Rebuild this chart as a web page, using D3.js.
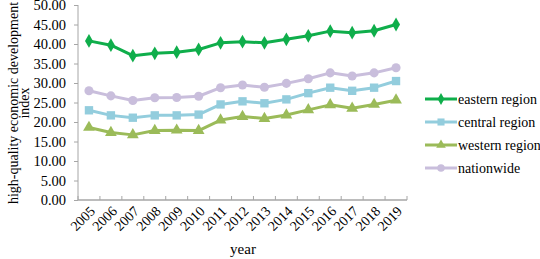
<!DOCTYPE html>
<html><head><meta charset="utf-8">
<script src="https://cdn.jsdelivr.net/npm/d3@7"></script>
<style>body{margin:0;background:#fff}svg{display:block}
svg text{font-family:"Liberation Serif","Times New Roman",Times,serif !important;fill:#000}</style>
</head><body><svg id="c" width="540" height="259"></svg>
<script>
const years = ["2005","2006","2007","2008","2009","2010","2011","2012","2013","2014","2015","2016","2017","2018","2019"];
const eastern = [40.8,39.7,37.0,37.6,37.9,38.6,40.3,40.6,40.3,41.2,42.1,43.3,42.9,43.4,45.0];
const central = [23.0,21.7,21.1,21.7,21.7,21.9,24.5,25.3,24.8,25.8,27.4,28.8,28.0,28.8,30.5];
const western = [18.6,17.3,16.7,17.8,17.9,17.8,20.5,21.4,20.9,21.8,23.1,24.4,23.5,24.5,25.6];
const nationwide = [28.0,26.7,25.5,26.2,26.3,26.6,28.8,29.5,28.9,29.9,31.1,32.6,31.8,32.6,33.9];
const yTicks = [0,5,10,15,20,25,30,35,40,45,50];
const seriesNames = ["eastern region","central region","western region","nationwide"];

const series = [
  {name:seriesNames[0], values:eastern, color:"#0fae4b", sym:d3.symbolDiamond, size:55, lsize:40},
  {name:seriesNames[1], values:central, color:"#93cddd", sym:d3.symbolSquare, size:70, lsize:50},
  {name:seriesNames[2], values:western, color:"#9bbb59", sym:d3.symbolTriangle, size:60, lsize:40},
  {name:seriesNames[3], values:nationwide, color:"#c9bedc", sym:d3.symbolCircle, size:65, lsize:45}
];

const svg = d3.select("#c");
const x = d3.scaleBand().domain(years).range([78,407]);
const y = d3.scaleLinear().domain([0,50]).range([200,5]);
const axisColor = "#a6a6a6";

// y axis
const ya = svg.append("g").attr("transform","translate(78,0)")
  .call(d3.axisLeft(y).tickValues(yTicks).tickSize(4).tickFormat(d3.format(".2f")));
ya.selectAll("line,path").attr("stroke",axisColor).attr("stroke-width",1);
ya.selectAll("text").attr("font-size",14.5).attr("x",-12);
ya.select(".domain").attr("d","M0,5V200");

// x axis
const xa = svg.append("g").attr("transform","translate(0,200)")
  .call(d3.axisBottom(x).tickSize(0).tickFormat(d=>d));
xa.selectAll("path").attr("stroke",axisColor).attr("stroke-width",1.3).attr("d","M78,0H407");
xa.selectAll(".tick text").attr("font-size",14)
  .attr("text-anchor","end").attr("dy",0).attr("y",0)
  .attr("transform","translate(7,12) rotate(-45)");
const bounds = years.map(d=>x(d)).concat([x.range()[1]]);
svg.append("g").selectAll("line").data(bounds).join("line")
  .attr("x1",d=>d).attr("x2",d=>d).attr("y1",200).attr("y2",196)
  .attr("stroke",axisColor).attr("stroke-width",1);

// lines
const line = d3.line().x((d,i)=>x(years[i])+x.bandwidth()/2).y(d=>y(d));
series.forEach(s=>{
  svg.append("path").datum(s.values).attr("d",line).attr("fill","none")
    .attr("stroke",s.color).attr("stroke-width",3).attr("stroke-linejoin","round");
  svg.append("g").selectAll("path").data(s.values).join("path")
    .attr("d",d3.symbol().type(s.sym).size(s.size))
    .attr("transform",(d,i)=>`translate(${x(years[i])+x.bandwidth()/2},${y(d)})`)
    .attr("fill",s.color);
});

// axis titles
svg.append("text").attr("x",243).attr("y",254).attr("text-anchor","middle")
  .attr("font-size",15).text("year");
const yt = svg.append("text").attr("transform","translate(0,103) rotate(-90)")
  .attr("text-anchor","middle").attr("font-size",14);
yt.append("tspan").attr("x",0).attr("y",18).text("high-quality economic development");
yt.append("tspan").attr("x",0).attr("y",29).text("index");

// legend
const lg = svg.append("g");
series.forEach((s,i)=>{
  const ly = 99 + i*23;
  lg.append("line").attr("x1",425).attr("x2",457).attr("y1",ly).attr("y2",ly)
    .attr("stroke",s.color).attr("stroke-width",3);
  lg.append("path").attr("d",d3.symbol().type(s.sym).size(s.lsize))
    .attr("transform",`translate(441,${ly})`).attr("fill",s.color);
  lg.append("text").attr("x",458).attr("y",ly+5)
    .attr("font-size",14).text(s.name);
});
</script></body></html>
